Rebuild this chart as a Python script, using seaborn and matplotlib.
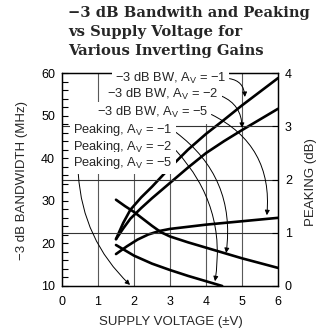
import matplotlib
matplotlib.use("Agg")
import matplotlib.pyplot as plt
import seaborn as sns

# -3 dB bandwidth (MHz), left axis
v_bw = [1.5, 1.7, 1.9, 2.2, 2.5, 3.0, 3.5, 4.0, 4.5, 5.0, 5.5, 6.0]
bw_av1 = [21.0, 24.8, 27.9, 30.8, 33.3, 37.8, 42.0, 45.7, 49.0, 52.4, 55.6, 58.8]
bw_av2 = [21.0, 23.5, 25.8, 28.3, 30.6, 34.2, 37.8, 41.2, 44.0, 46.6, 49.1, 51.6]
v_bw5 = [1.5, 1.8, 2.1, 2.4, 2.7, 3.0, 3.5, 4.0, 4.5, 5.0, 5.5, 6.0]
bw_av5 = [17.5, 19.3, 20.9, 22.1, 22.9, 23.4, 23.9, 24.4, 24.8, 25.2, 25.6, 26.0]

# peaking (dB), right axis
v_pk1 = [1.5, 1.75, 2.0, 2.5, 2.75, 3.0, 3.5, 4.0, 4.5, 5.0, 5.5, 6.0]
pk_av1 = [1.62, 1.50, 1.39, 1.13, 1.01, 0.93, 0.82, 0.72, 0.62, 0.52, 0.43, 0.34]
v_pk2 = [1.5, 1.75, 2.0, 2.5, 3.0, 3.5, 4.0, 4.45]
pk_av2 = [0.77, 0.67, 0.57, 0.42, 0.30, 0.19, 0.09, 0.0]

x_ticks = [0, 1, 2, 3, 4, 5, 6]
bw_ticks = [10, 20, 30, 40, 50, 60]
pk_ticks = [0, 1, 2, 3, 4]

sns.set_style("white")
plt.rcParams["font.family"] = ["Liberation Sans", "DejaVu Sans"]
plt.rcParams["mathtext.fontset"] = "custom"
plt.rcParams["mathtext.rm"] = "Liberation Sans"
plt.rcParams["mathtext.default"] = "regular"

fig = plt.figure(figsize=(3.18, 3.35), dpi=100)
ax = fig.add_axes([62 / 318, 1 - 286 / 335, 216 / 318, 213 / 335])
ax2 = ax.twinx()

lw = 1.9
sns.lineplot(x=v_bw, y=bw_av1, ax=ax, color="black", lw=lw, estimator=None)
sns.lineplot(x=v_bw, y=bw_av2, ax=ax, color="black", lw=lw, estimator=None)
sns.lineplot(x=v_bw5, y=bw_av5, ax=ax, color="black", lw=lw, estimator=None)
sns.lineplot(x=v_pk1, y=pk_av1, ax=ax2, color="black", lw=lw, estimator=None)
sns.lineplot(x=v_pk2, y=pk_av2, ax=ax2, color="black", lw=lw, estimator=None)

ax.set_xlim(0, 6)
ax.set_ylim(10, 60)
ax2.set_ylim(0, 4)
ax.set_xticks(x_ticks)
ax.set_yticks(bw_ticks)
ax.set_yticks(range(10, 61, 2), minor=True)
ax2.set_yticks(pk_ticks)
ax.set_xlabel("")
ax.set_ylabel("")

for a in (ax, ax2):
    for s in a.spines.values():
        s.set_color("black")
        s.set_linewidth(0.9)
ax.tick_params(axis="y", which="both", direction="in", length=4, width=0.8,
               labelsize=9, pad=5, colors="black")
ax.tick_params(axis="x", length=0, labelsize=9, pad=7, colors="black")
ax2.tick_params(axis="y", direction="in", length=4, width=0.8,
                labelsize=9, pad=5, colors="black")

# grid
for xv in x_ticks[1:-1]:
    ax.axvline(xv, color="0.35", lw=0.8, zorder=0)
for yv in pk_ticks[1:-1]:
    ax2.axhline(yv, color="0.2", lw=0.8, zorder=0)

# annotations
box = dict(boxstyle="square,pad=0.25", fc="white", ec="none")
labels = [
    ("\u22123 dB BW, $A_V$ = \u22121", (1.47, 3.90), (5.08, 3.55), -0.45, (1, 0.5)),
    ("\u22123 dB BW, $A_V$ = \u22122", (1.25, 3.59), (5.0, 2.97), -0.35, (1, 0.5)),
    ("\u22123 dB BW, $A_V$ = \u22125", (0.97, 3.25), (5.69, 1.33), -0.35, (1, 0.5)),
    ("Peaking, $A_V$ = \u22121", (0.31, 2.93), (4.56, 0.62), -0.3, (1, 0.5)),
    ("Peaking, $A_V$ = \u22122", (0.31, 2.61), (4.25, 0.09), -0.25, (1, 0.5)),
    ("Peaking, $A_V$ = \u22125", (0.31, 2.31), (1.89, 0.02), 0.2, (0.05, 0)),
]
for text, xytext, xy, rad, rp in labels:
    ax2.annotate(text, xy=xy, xytext=xytext,
                 ha="left", va="center", fontsize=9.3, bbox=box, zorder=5,
                 arrowprops=dict(arrowstyle="-|>", color="black", lw=0.7,
                                 mutation_scale=7, relpos=rp, shrinkA=0, shrinkB=0,
                                 connectionstyle=f"arc3,rad={rad}"))

# axis labels
fig.text(22 / 318, 1 - 180 / 335, "\u22123 dB BANDWIDTH (MHz)", rotation=90,
         ha="center", va="center", fontsize=9.5)
fig.text(311 / 318, 1 - 182 / 335, "PEAKING (dB)", rotation=90,
         ha="center", va="center", fontsize=9.5)
fig.text(171 / 318, 1 - 322 / 335, "SUPPLY VOLTAGE (\u00b1V)",
         ha="center", va="center", fontsize=9.5)

# title
title_lines = ["\u22123 dB Bandwith and Peaking", "vs Supply Voltage for",
               "Various Inverting Gains"]
for i, t in enumerate(title_lines):
    fig.text(68 / 318, 1 - (13 + 19 * i) / 335, t, ha="left", va="center",
             fontsize=10.6, fontweight="bold", family="DejaVu Serif")

fig.savefig("out.png", dpi=100)
